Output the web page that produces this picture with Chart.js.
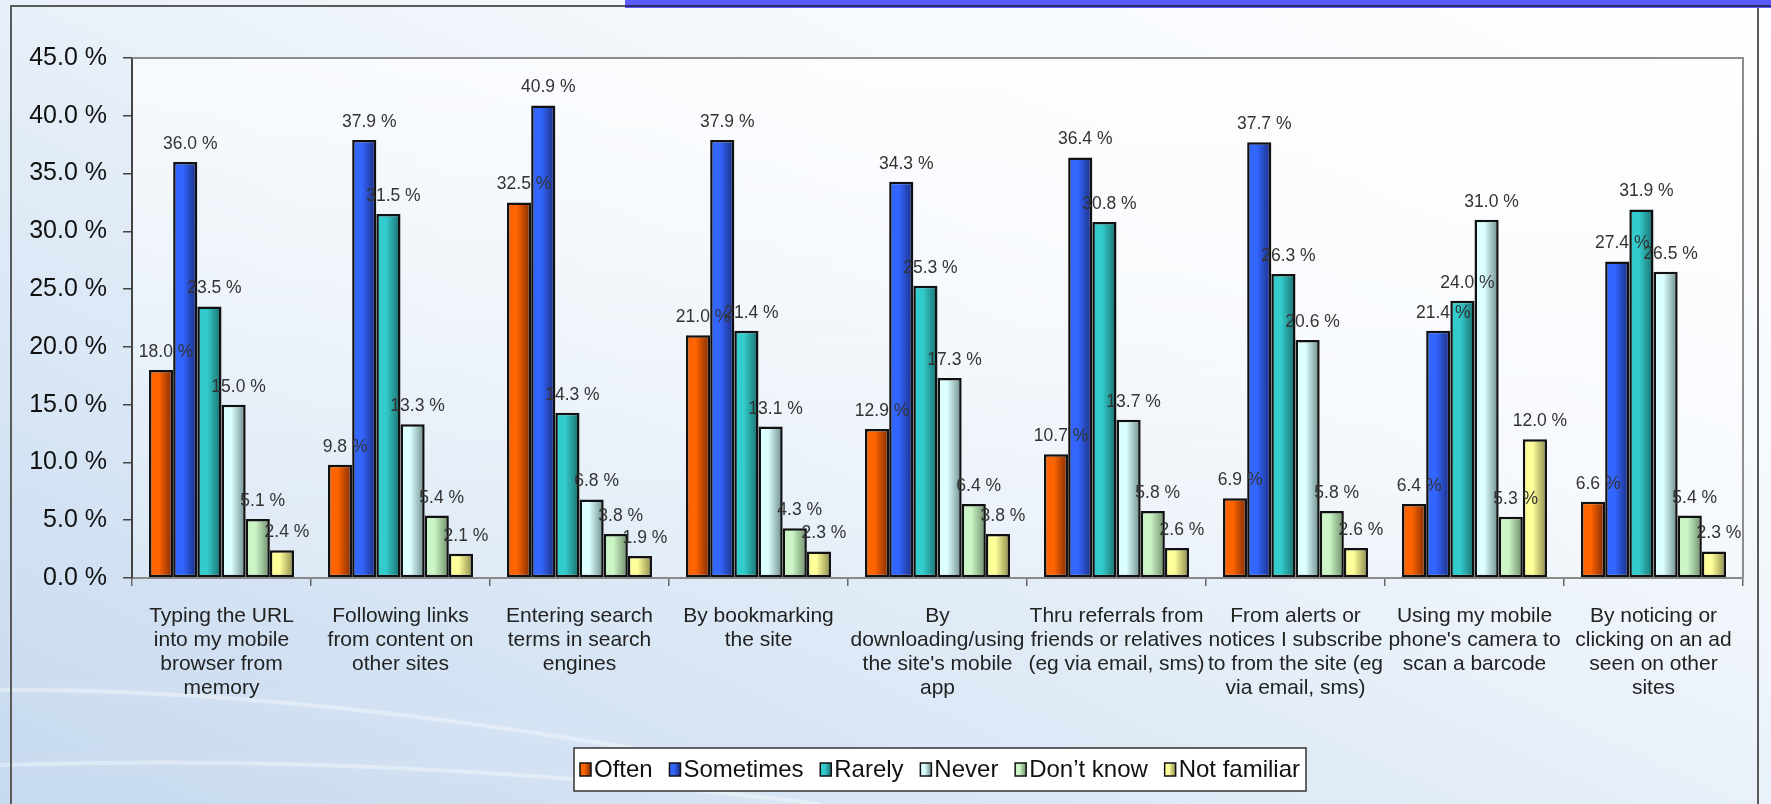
<!DOCTYPE html>
<html>
<head>
<meta charset="utf-8">
<title>How mobile users reach a site</title>
<script src="https://cdn.jsdelivr.net/npm/chart.js@4.4.1/dist/chart.umd.min.js"></script>
<style>
  html, body { margin: 0; padding: 0; }
  body {
    width: 1771px;
    height: 804px;
    overflow: hidden;
    background: linear-gradient(205deg, #ffffff 0%, #f3f7fc 35%, #dae7f5 70%, #c6d9ef 100%);
  }
</style>
</head>
<body>
<canvas id="chart" width="1771" height="804"></canvas>
<script>
// categories (one group of bars each)
const categories = [
  ['Typing the URL', 'into my mobile', 'browser from', 'memory'],
  ['Following links', 'from content on', 'other sites'],
  ['Entering search', 'terms in search', 'engines'],
  ['By bookmarking', 'the site'],
  ['By', 'downloading/using', "the site's mobile", 'app'],
  ['Thru referrals from', 'friends or relatives', '(eg via email, sms)'],
  ['From alerts or', 'notices I subscribe', 'to from the site (eg', 'via email, sms)'],
  ['Using my mobile', "phone's camera to", 'scan a barcode'],
  ['By noticing or', 'clicking on an ad', 'seen on other', 'sites']
];

const seriesNames = ['Often', 'Sometimes', 'Rarely', 'Never', 'Don’t know', 'Not familiar'];

// percentages per answer
const often       = [18.0,  9.8, 32.5, 21.0, 12.9, 10.7,  6.9,  6.4,  6.6];
const sometimes   = [36.0, 37.9, 40.9, 37.9, 34.3, 36.4, 37.7, 21.4, 27.4];
const rarely      = [23.5, 31.5, 14.3, 21.4, 25.3, 30.8, 26.3, 24.0, 31.9];
const never       = [15.0, 13.3,  6.8, 13.1, 17.3, 13.7, 20.6, 31.0, 26.5];
const dontKnow    = [ 5.1,  5.4,  3.8,  4.3,  6.4,  5.8,  5.8,  5.3,  5.4];
const notFamiliar = [ 2.4,  2.1,  1.9,  2.3,  3.8,  2.6,  2.6, 12.0,  2.3];

const yMin = 0, yMax = 45, yStep = 5;

// light -> dark shading for each series
const shades = [
  ['#ff6400', '#7a2a04'],
  ['#3366ff', '#1b2c7c'],
  ['#33cccc', '#1a6c6c'],
  ['#dcffff', '#6c8a8a'],
  ['#ccf5c6', '#6c8c68'],
  ['#ffff9a', '#8a8748']
];

const FONT = '"Liberation Sans", Arial, sans-serif';
Chart.defaults.font.family = FONT;

function barGradient(ctx, x0, x1, pair) {
  const g = ctx.createLinearGradient(x0, 0, x1, 0);
  g.addColorStop(0, pair[0]);
  g.addColorStop(0.4, pair[0]);
  g.addColorStop(1, pair[1]);
  return g;
}

// slide backdrop: frame, top band, soft swooshes, lighter plot area
const backdrop = {
  id: 'backdrop',
  beforeDraw(chart) {
    const ctx = chart.ctx;
    const a = chart.chartArea;
    ctx.save();

    ctx.strokeStyle = 'rgba(255,255,255,0.35)';
    ctx.shadowColor = 'rgba(255,255,255,0.8)';
    ctx.shadowBlur = 16;
    ctx.lineWidth = 4;
    ctx.beginPath();
    ctx.moveTo(0, 690);
    ctx.quadraticCurveTo(300, 688, 700, 760);
    ctx.stroke();
    ctx.beginPath();
    ctx.moveTo(0, 765);
    ctx.quadraticCurveTo(400, 752, 820, 804);
    ctx.stroke();
    ctx.shadowBlur = 0;

    const g = ctx.createLinearGradient(0, a.top, 0, a.bottom);
    g.addColorStop(0, 'rgba(255,255,255,0.65)');
    g.addColorStop(1, 'rgba(255,255,255,0.2)');
    ctx.fillStyle = g;
    ctx.fillRect(a.left, a.top, a.right - a.left, a.bottom - a.top);

    // frame
    ctx.strokeStyle = '#5a5a5a';
    ctx.lineWidth = 2;
    ctx.beginPath();
    ctx.moveTo(11, 804);
    ctx.lineTo(11, 6);
    ctx.lineTo(1758, 6);
    ctx.lineTo(1758, 804);
    ctx.stroke();

    ctx.fillStyle = '#5b5bff';
    ctx.fillRect(625, 0, 1771 - 625, 8);
    ctx.fillStyle = '#2b2b6e';
    ctx.fillRect(625, 5, 1771 - 625, 2);
    ctx.restore();
  },
  afterDraw(chart) {
    const ctx = chart.ctx;
    const a = chart.chartArea;
    ctx.save();
    ctx.strokeStyle = '#8c8c8c';
    ctx.lineWidth = 2;
    ctx.beginPath();
    ctx.moveTo(a.left, a.top);
    ctx.lineTo(a.right, a.top);
    ctx.lineTo(a.right, a.bottom);
    ctx.stroke();
    ctx.restore();
  }
};

// horizontal light-to-dark fill on every bar
const barShading = {
  id: 'barShading',
  beforeDatasetsDraw(chart) {
    const ctx = chart.ctx;
    chart.data.datasets.forEach((ds, i) => {
      chart.getDatasetMeta(i).data.forEach(bar => {
        bar.options.backgroundColor = barGradient(ctx, bar.x - bar.width / 2, bar.x + bar.width / 2, shades[i]);
      });
    });
  }
};

// value printed over each bar
const valueLabels = {
  id: 'valueLabels',
  afterDatasetsDraw(chart) {
    const ctx = chart.ctx;
    ctx.save();
    ctx.font = '17.5px ' + FONT;
    ctx.fillStyle = '#333';
    ctx.textAlign = 'center';
    ctx.textBaseline = 'alphabetic';
    chart.data.datasets.forEach((ds, i) => {
      chart.getDatasetMeta(i).data.forEach((bar, j) => {
        ctx.fillText(ds.data[j].toFixed(1) + ' %', bar.x + 5, bar.y - 13);
      });
    });
    ctx.restore();
  }
};

// boxed legend under the axis labels
const boxLegend = {
  id: 'boxLegend',
  afterDraw(chart) {
    const ctx = chart.ctx;
    const left = 574, right = 1306, top = 748, bottom = 791;
    const mid = (top + bottom) / 2;
    ctx.save();
    ctx.fillStyle = '#ffffff';
    ctx.fillRect(left, top, right - left, bottom - top);
    ctx.strokeStyle = '#333';
    ctx.lineWidth = 1.5;
    ctx.strokeRect(left, top, right - left, bottom - top);

    ctx.font = '24px ' + FONT;
    ctx.textBaseline = 'middle';
    const sw = 11, sh = 13, gapIn = 3;
    const widths = chart.data.datasets.map(ds => ctx.measureText(ds.label).width);
    const itemsW = widths.reduce((s, w) => s + sw + gapIn + w, 0);
    const gap = (right - left - 12 - itemsW) / (widths.length - 1);
    let x = left + 6;
    chart.data.datasets.forEach((ds, i) => {
      ctx.fillStyle = barGradient(ctx, x, x + sw, shades[i]);
      ctx.fillRect(x, mid - sh / 2, sw, sh);
      ctx.strokeStyle = '#111';
      ctx.lineWidth = 1.5;
      ctx.strokeRect(x, mid - sh / 2, sw, sh);
      x += sw + gapIn;
      ctx.fillStyle = '#111';
      ctx.fillText(ds.label, x, mid + 1);
      x += widths[i] + gap;
    });
    ctx.restore();
  }
};

const seriesValues = [often, sometimes, rarely, never, dontKnow, notFamiliar];

const chart = new Chart(document.getElementById('chart'), {
  type: 'bar',
  data: {
    labels: categories,
    datasets: seriesNames.map((name, i) => ({
      label: name,
      data: seriesValues[i],
      // scriptable so each bar keeps its own options object
      backgroundColor: c => shades[c.datasetIndex][0],
      borderColor: '#111',
      borderWidth: 2.5,
      borderSkipped: false,
      categoryPercentage: 0.81,
      barPercentage: 1.0
    }))
  },
  options: {
    responsive: false,
    animation: false,
    layout: { padding: { left: 10, right: 28, top: 58, bottom: 0 } },
    plugins: {
      legend: { display: false },
      tooltip: { enabled: false }
    },
    scales: {
      x: {
        grid: { offset: true, drawOnChartArea: false, tickLength: 8, color: '#666', lineWidth: 1.5 },
        border: { color: '#8a8a8a', width: 2 },
        ticks: {
          autoSkip: false,
          maxRotation: 0,
          padding: 18,
          color: '#222',
          font: { size: 21, lineHeight: 1.15 }
        },
        afterFit(scale) { scale.height = 226; }
      },
      y: {
        min: yMin,
        max: yMax,
        ticks: {
          stepSize: yStep,
          padding: 16,
          color: '#111',
          font: { size: 25 },
          callback: v => v.toFixed(1) + ' %'
        },
        grid: { drawOnChartArea: false, tickLength: 9, color: '#444', lineWidth: 1.5 },
        border: { color: '#444', width: 2 },
        afterFit(scale) { scale.width = 122; }
      }
    }
  },
  plugins: [backdrop, barShading, valueLabels, boxLegend]
});
</script>
</body>
</html>
